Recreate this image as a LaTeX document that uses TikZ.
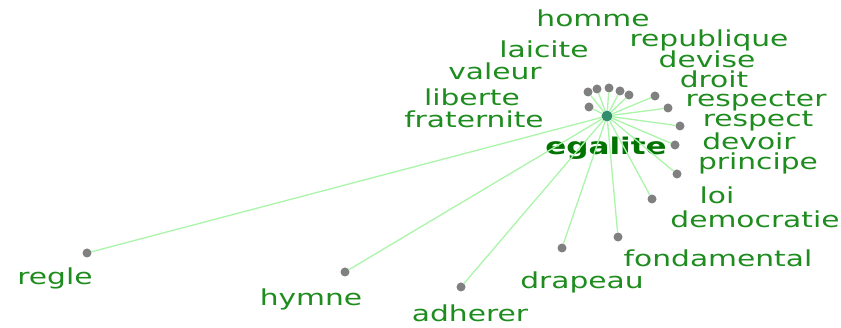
\documentclass[tikz,border=0pt]{standalone}
\usepackage{fontspec}
\setmainfont[FakeStretch=1.35]{DejaVu Sans}
\definecolor{wordgreen}{RGB}{30,140,30}
\definecolor{hubword}{RGB}{0,115,0}
\definecolor{linkgreen}{RGB}{170,245,170}
\definecolor{hubgreen}{RGB}{50,140,110}
\definecolor{dotgray}{RGB}{128,128,128}
\begin{document}
\begin{tikzpicture}[x=1pt, y=-1pt, font=\fontsize{22}{22}\selectfont, line join=round, line cap=round,
		dot/.style={circle, fill=dotgray, inner sep=0pt, minimum size=9pt},
		hub/.style={circle, fill=hubgreen, inner sep=0pt, minimum size=11pt},
		word/.style={text=wordgreen, anchor=base, inner sep=0pt},
		link/.style={draw=linkgreen, line width=1.3pt}]
			\useasboundingbox (0,0) rectangle (841,328);
			% centre word
			\node[hub] (c) at (607,116) {};
			\node[word, text=hubword, font=\fontsize{23}{23}\selectfont\bfseries] (egalite) at (606,155) {egalite};
			% dots
			\node[dot] (d-homme) at (609,88) {};
			\node[dot] (d-laicite) at (597,89) {};
			\node[dot] (d-valeur) at (588,92) {};
			\node[dot] (d-liberte) at (589,107) {};
			\node[dot] (d-republique) at (620,91) {};
			\node[dot] (d-devise) at (629,95) {};
			\node[dot] (d-droit) at (655,96) {};
			\node[dot] (d-respecter) at (668,108) {};
			\node[dot] (d-respect) at (680,126) {};
			\node[dot] (d-devoir) at (675,145) {};
			\node[dot] (d-principe) at (677,174) {};
			\node[dot] (d-loi) at (652,199) {};
			\node[dot] (d-fondamental) at (618,237) {};
			\node[dot] (d-drapeau) at (562,248) {};
			\node[dot] (d-adherer) at (461,287) {};
			\node[dot] (d-hymne) at (345,272) {};
			\node[dot] (d-regle) at (87,253) {};
			\foreach \w in {homme,laicite,valeur,liberte,republique,devise,droit,respecter,respect,devoir,principe,loi,fondamental,drapeau,adherer,hymne,regle}
				\draw[link] (c) -- (d-\w);
			% words
			\node[word] (homme) at (593,27) {homme};
			\node[word] (republique) at (709,47) {republique};
			\node[word] (devise) at (707,68) {devise};
			\node[word] (droit) at (714,88) {droit};
			\node[word] (respecter) at (756,107) {respecter};
			\node[word] (respect) at (758,127) {respect};
			\node[word] (devoir) at (749,150) {devoir};
			\node[word] (principe) at (758,170) {principe};
			\node[word] (loi) at (717,204) {loi};
			\node[word] (democratie) at (755,228) {democratie};
			\node[word] (fondamental) at (718,267) {fondamental};
			\node[word] (drapeau) at (582,289) {drapeau};
			\node[word] (adherer) at (470,322) {adherer};
			\node[word] (hymne) at (311,306) {hymne};
			\node[word] (regle) at (55,285) {regle};
			\node[word] (laicite) at (544,58) {laicite};
			\node[word] (valeur) at (495,80) {valeur};
			\node[word] (liberte) at (472,106) {liberte};
			\node[word] (fraternite) at (474,128) {fraternite};
		\end{tikzpicture}
\end{document}
